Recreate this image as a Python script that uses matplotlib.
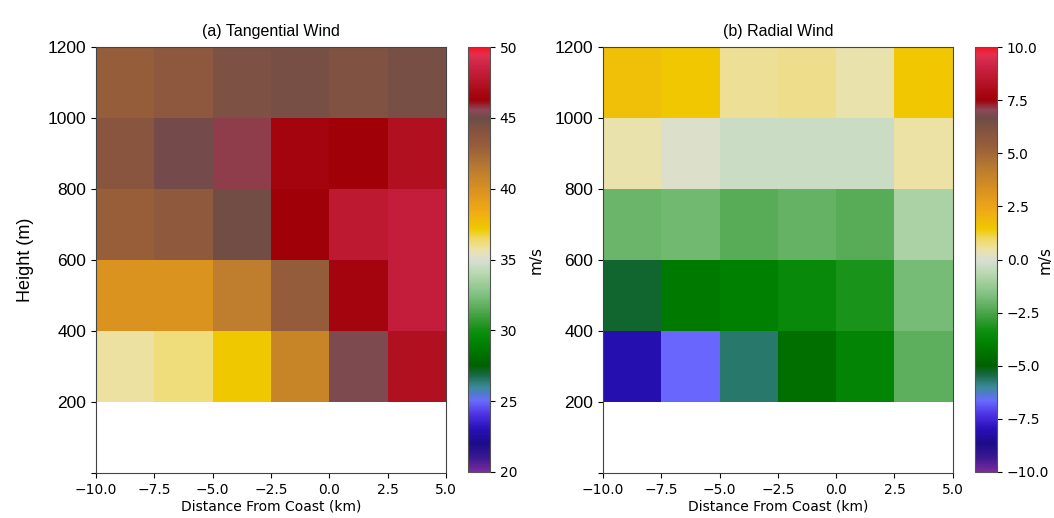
import numpy as np
import matplotlib
matplotlib.use("Agg")
import matplotlib.pyplot as plt
from matplotlib.colors import LinearSegmentedColormap
from matplotlib.ticker import FuncFormatter

# -------------------------------------------------
# DATA
# -------------------------------------------------
x_edges = [-10.0, -7.5, -5.0, -2.5, 0.0, 2.5, 5.0]
y_edges = [0, 200, 400, 600, 800, 1000, 1200]

# rows bottom -> top (0-200 m has no data)
tangential = [
    [np.nan] * 6,
    [35.8, 36.2, 37.2, 40.8, 45.3, 47.3],
    [39.8, 39.8, 41.2, 43.2, 46.5, 48.3],
    [43.0, 43.5, 44.9, 46.3, 47.9, 48.3],
    [43.9, 45.1, 45.7, 46.5, 46.3, 47.3],
    [43.1, 43.6, 44.4, 44.6, 44.3, 44.6],
]

radial = [
    [np.nan] * 6,
    [-8.1, -6.7, -5.7, -4.5, -3.8, -2.2],
    [-5.3, -4.2, -4.0, -3.6, -3.2, -1.8],
    [-2.0, -1.9, -2.3, -2.1, -2.3, -0.9],
    [0.4, 0.1, -0.3, -0.3, -0.3, 0.5],
    [1.7, 1.5, 0.6, 0.7, 0.4, 1.5],
]

x_ticks = [-10.0, -7.5, -5.0, -2.5, 0.0, 2.5, 5.0]
y_ticks = [0, 200, 400, 600, 800, 1000, 1200]
y_ticklabels = ["", "200", "400", "600", "800", "1000", "1200"]


def minus_fmt(fmt):
    return FuncFormatter(lambda v, pos: (fmt % v).replace("-", "\u2212"))


# -------------------------------------------------
# COLORMAP (anchors given on the 20..50 m/s scale)
# -------------------------------------------------
anchors = [
    (20.0, "#7a2aa0"), (21.0, "#3a1890"), (22.0, "#1c0c88"),
    (23.0, "#2810b8"), (24.0, "#4a30e0"), (25.0, "#6a6aff"),
    (26.0, "#3a8a98"), (26.8, "#1a6a4a"), (27.5, "#006000"),
    (29.0, "#008000"), (30.0, "#109010"), (31.0, "#40a040"),
    (32.5, "#80c080"), (34.0, "#b8d8b0"), (35.0, "#d8e0d4"),
    (35.7, "#ece2a8"), (36.5, "#f0d860"), (37.2, "#f0c800"),
    (38.5, "#f0a818"), (40.0, "#d89020"), (41.5, "#b87a30"),
    (43.0, "#985e3a"), (44.0, "#885440"), (45.0, "#6e4c46"),
    (45.6, "#8c4858"), (46.3, "#a00008"), (47.3, "#b01020"),
    (48.5, "#c82040"), (49.5, "#e03050"), (50.0, "#ff1020"),
]
cmap = LinearSegmentedColormap.from_list(
    "wind", [((v - 20.0) / 30.0, c) for v, c in anchors], N=512
)

# -------------------------------------------------
# FIGURE
# -------------------------------------------------
fig = plt.figure(figsize=(10.54, 5.18), dpi=100)

ax1 = fig.add_axes([0.0911, 0.0869, 0.332, 0.822])
cax1 = fig.add_axes([0.444, 0.0889, 0.0209, 0.820])
ax2 = fig.add_axes([0.572, 0.0869, 0.332, 0.822])
cax2 = fig.add_axes([0.925, 0.0889, 0.0209, 0.820])

panels = [
    (ax1, cax1, tangential, 20, 50, "(a) Tangential Wind",
     [20, 25, 30, 35, 40, 45, 50], "%d", 2.75),
    (ax2, cax2, radial, -10, 10, "(b) Radial Wind",
     [-10, -7.5, -5, -2.5, 0, 2.5, 5, 7.5, 10], "%.1f", 2.85),
]

for ax, cax, vals, vmin, vmax, title, cticks, cfmt, lab_x in panels:
    mesh = ax.pcolormesh(x_edges, y_edges, np.array(vals), cmap=cmap,
                         vmin=vmin, vmax=vmax, shading="flat")
    ax.set_xlim(-10, 5)
    ax.set_ylim(0, 1200)
    ax.set_xticks(x_ticks)
    ax.set_xticklabels([f"{t:.1f}".replace("-", "\u2212") for t in x_ticks],
                       fontsize=10)
    ax.set_yticks(y_ticks)
    ax.set_yticklabels(y_ticklabels, family="Liberation Sans", fontsize=12.5)
    ax.set_xlabel("Distance From Coast (km)", fontsize=10, labelpad=2)
    ax.set_title(title, family="Liberation Sans", fontsize=11.5, pad=8)
    for s in ax.spines.values():
        s.set_color("#444444")

    cb = fig.colorbar(mesh, cax=cax, ticks=cticks, format=minus_fmt(cfmt))
    cb.outline.set_edgecolor("#555555")
    cb.ax.tick_params(labelsize=10)
    cb.set_label("m/s", fontsize=11)
    cb.ax.yaxis.set_label_coords(lab_x, 0.5)

ax1.set_ylabel("Height (m)", family="Liberation Sans", fontsize=13, labelpad=10)

fig.savefig("out.png", dpi=100)
